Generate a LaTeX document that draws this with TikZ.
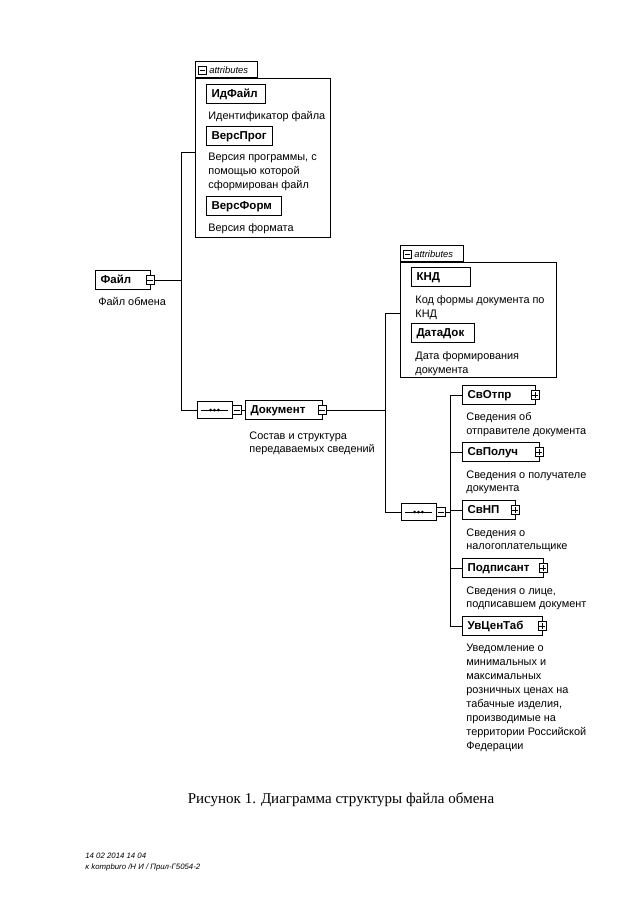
\documentclass[tikz,border=0pt]{standalone}
\usepackage{fontspec}
\setmainfont{Liberation Serif}
\setsansfont{Liberation Sans}
\usetikzlibrary{shapes.misc}
\begin{document}
\begin{tikzpicture}[x=1pt,y=-1pt,
  line width=0.8pt,
  elem/.style={draw, line width=1.1pt, rectangle, anchor=west, minimum height=18.5pt,
    inner xsep=5pt, inner ysep=0pt, align=left, text width=#1-10pt,
    text height=8.3pt, text depth=1.2pt,
    font=\sffamily\bfseries\fontsize{11.5}{12}\selectfont},
  desc/.style={anchor=north west, inner sep=0pt, align=left,
    font=\sffamily\fontsize{10.9}{13.9}\selectfont},
  sym/.style={draw, line width=0.7pt, fill=white, minimum size=8.5pt, inner sep=0pt},
  attrbox/.style={draw, line width=0.8pt, rectangle, anchor=north west, inner sep=0pt},
  tabbox/.style={draw, line width=0.8pt, rectangle, anchor=south west, inner sep=0pt,
    minimum height=16pt},
  tabtext/.style={anchor=west, inner sep=0pt, font=\sffamily\itshape\fontsize{9.4}{10}\selectfont},
  seqbox/.style={draw, line width=0.9pt, chamfered rectangle, chamfered rectangle xsep=5pt,
    chamfered rectangle ysep=4.5pt, minimum width=35pt, minimum height=17.5pt, inner sep=0pt},
  conn/.style={line width=0.8pt}
]
\useasboundingbox (0,0) rectangle (640,905);

\newcommand{\minusat}[1]{%
  \draw[line width=0.6pt] ([xshift=1.6pt]#1.west) -- ([xshift=-1.6pt]#1.east);}
\newcommand{\plusat}[1]{%
  \draw[line width=0.6pt] ([xshift=1.6pt]#1.west) -- ([xshift=-1.6pt]#1.east)
    ([yshift=1.6pt]#1.south) -- ([yshift=-1.6pt]#1.north);}
\newcommand{\seqdots}[1]{%
  \draw[line width=0.6pt] ([xshift=4pt]#1.west) -- ([xshift=-4pt]#1.east);
  \foreach \dx in {-3.8,0,3.8} \fill ([xshift=\dx pt]#1.center) circle (1.5pt);}

% ---------- attributes box 1 ----------
\node[attrbox, minimum width=135pt, minimum height=159pt] (attr1) at (195,78) {};
\node[tabbox, minimum width=62pt] (tab1) at (195,78) {};
\node[sym, minimum size=8pt] (tab1s) at (202.5,70) {}; \minusat{tab1s}
\node[tabtext] (tab1t) at (209,70.5) {attributes};

\node[elem=59pt] (idf) at (206,94) {ИдФайл};
\node[desc] (idft) at (208,111.5) {Идентификатор файла};
\node[elem=66pt] (vprog) at (206,136) {ВерсПрог};
\node[desc] (vprogt) at (208,153) {Версия программы, с\\помощью которой\\сформирован файл};
\node[elem=75pt] (vform) at (206,206) {ВерсФорм};
\node[desc] (vformt) at (208,223.5) {Версия формата};

% ---------- root ----------
\node[elem=55pt] (file) at (95,280) {Файл};
\node[sym] (filem) at ([xshift=-1pt]file.east) {}; \minusat{filem}
\node[desc] (filet) at (98,297) {Файл обмена};

\coordinate (j1t) at (181,152);
\coordinate (j1b) at (181,410);
\coordinate (j1m) at (181,280);
\draw[conn] (filem.east) -- (j1m);
\draw[conn] (j1t) -- (j1b);
\draw[conn] (j1t) -- (j1t -| attr1.west);

% ---------- sequence 1 ----------
\node[seqbox] (seq1) at (214.5,410) {}; \seqdots{seq1}
\node[sym, anchor=west] (seq1m) at (seq1.east) {}; \minusat{seq1m}
\draw[conn] (j1b) -- (seq1.west);

\node[elem=77pt] (doc) at (245,410) {Документ};
\node[sym] (docm) at ([xshift=-1pt]doc.east) {}; \minusat{docm}
\node[desc] (doct) at (249,431) {Состав и структура\\передаваемых сведений};
\draw[conn] (seq1m.east) -- (doc.west);

\coordinate (j2t) at (385,313);
\coordinate (j2b) at (385,512);
\coordinate (j2m) at (385,410);
\draw[conn] (docm.east) -- (j2m);
\draw[conn] (j2t) -- (j2b);

% ---------- attributes box 2 ----------
\node[attrbox, minimum width=156pt, minimum height=115pt] (attr2) at (400,262) {};
\node[tabbox, minimum width=63pt] (tab2) at (400,262) {};
\node[sym, minimum size=8pt] (tab2s) at (407.5,254) {}; \minusat{tab2s}
\node[tabtext] (tab2t) at (414,254.5) {attributes};
\draw[conn] (j2t) -- (j2t -| attr2.west);

\node[elem=59pt] (knd) at (411,277) {КНД};
\node[desc] (kndt) at (415,295.5) {Код формы документа по\\КНД};
\node[elem=63pt] (dd) at (411,333) {ДатаДок};
\node[desc] (ddt) at (415,351.5) {Дата формирования\\документа};

% ---------- sequence 2 ----------
\node[seqbox] (seq2) at (418.5,512) {}; \seqdots{seq2}
\node[sym, anchor=west] (seq2m) at (seq2.east) {}; \minusat{seq2m}
\draw[conn] (j2b) -- (seq2.west);

\coordinate (j3t) at (450,395);
\coordinate (j3b) at (450,626);
\coordinate (j3m) at (450,512);
\draw[conn] (seq2m.east) -- (j3m);
\draw[conn] (j3t) -- (j3b);

% children
\node[elem=73pt] (svotpr) at (462,395) {СвОтпр};
\node[sym] (svotprp) at ([xshift=-1pt]svotpr.east) {}; \plusat{svotprp}
\node[desc] (svotprt) at (466,412.5) {Сведения об\\отправителе документа};
\draw[conn] (j3t) -- (svotpr.west);

\node[elem=77pt] (svpol) at (462,452) {СвПолуч};
\node[sym] (svpolp) at ([xshift=-1pt]svpol.east) {}; \plusat{svpolp}
\node[desc] (svpolt) at (466,470) {Сведения о получателе\\документа};
\draw[conn] (svpol.west -| j3t) -- (svpol.west);

\node[elem=53pt] (svnp) at (462,510) {СвНП};
\node[sym] (svnpp) at ([xshift=-1pt]svnp.east) {}; \plusat{svnpp}
\node[desc] (svnpt) at (466,528) {Сведения о\\налогоплательщике};
\draw[conn] (svnp.west -| j3t) -- (svnp.west);

\node[elem=81pt] (podp) at (462,568) {Подписант};
\node[sym] (podpp) at ([xshift=-1pt]podp.east) {}; \plusat{podpp}
\node[desc] (podpt) at (466,586) {Сведения о лице,\\подписавшем документ};
\draw[conn] (podp.west -| j3t) -- (podp.west);

\node[elem=80pt] (uvc) at (462,626) {УвЦенТаб};
\node[sym] (uvcp) at ([xshift=-1pt]uvc.east) {}; \plusat{uvcp}
\node[desc] (uvct) at (466,644) {Уведомление о\\минимальных и\\максимальных\\розничных ценах на\\табачные изделия,\\производимые на\\территории Российской\\Федерации};
\draw[conn] (j3b) -- (uvc.west);

% caption and footer
\node[anchor=center, inner sep=0pt, font=\fontsize{15}{17}\selectfont] (cap) at (341,800) {Рисунок 1. Диаграмма структуры файла обмена};
\node[anchor=north west, inner sep=0pt, align=left, font=\sffamily\itshape\fontsize{7.8}{11}\selectfont] (foot) at (85,853) {14 02 2014 14 04\\ĸ kompburo /Н И / Прил-Г5054-2};
\end{tikzpicture}
\end{document}
